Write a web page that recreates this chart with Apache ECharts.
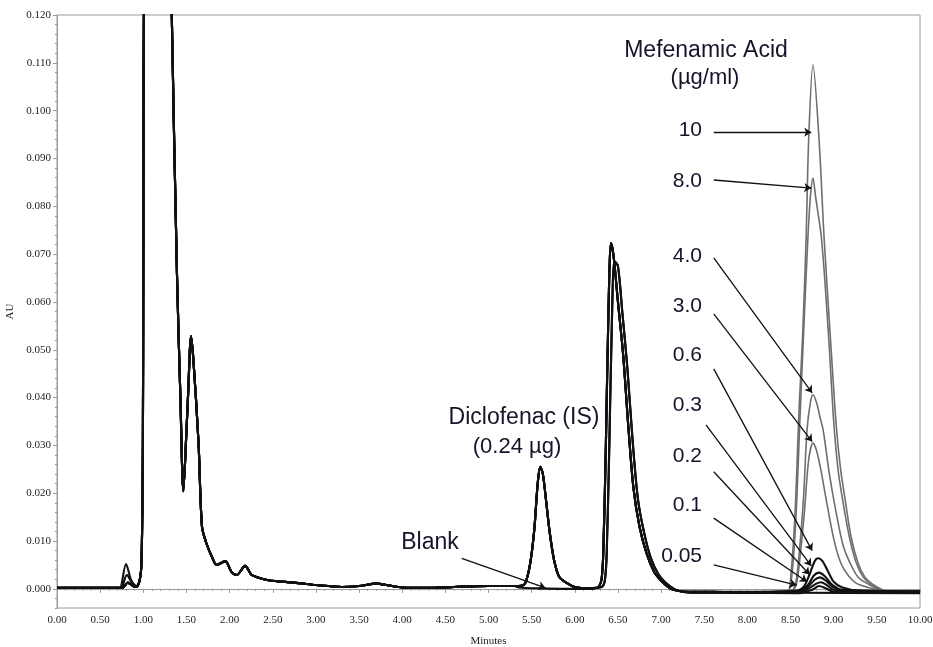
<!DOCTYPE html>
<html>
<head>
<meta charset="utf-8">
<script src="https://cdn.jsdelivr.net/npm/echarts@6/dist/echarts.min.js"></script>
<style>
html, body { margin: 0; padding: 0; background: #fff; }
#container { width: 933px; height: 647px; }
</style>
</head>
<body>
<div id="container"></div>
<script>
// chromatogram pieces, [minutes, AU]
var startFlat = [[0, 0.0002], [0.72, 0.0002]];
var bumpHigh = [[0.74, 0.0003], [0.80, 0.0052], [0.86, 0.0018], [0.92, 0.0006]];
var bumpMid = [[0.75, 0.0003], [0.81, 0.0029], [0.87, 0.0012], [0.92, 0.0005]];
var bumpLow = [[0.76, 0.0002], [0.82, 0.0013], [0.88, 0.0006], [0.92, 0.0004]];

var solventFront = [
    [0.96, 0.002], [0.98, 0.006], [0.995, 0.03], [1.0, 0.07], [1.01, 0.135],
    [1.32, 0.135], [1.33, 0.12], [1.39, 0.066], [1.43, 0.04], [1.464, 0.0204],
    [1.50, 0.033], [1.52, 0.041], [1.553, 0.0528], [1.58, 0.048], [1.64, 0.0305],
    [1.68, 0.013], [1.73, 0.0096], [1.80, 0.0065], [1.85, 0.005], [1.95, 0.0058],
    [2.02, 0.0036], [2.08, 0.0029], [2.18, 0.0048], [2.25, 0.003], [2.31, 0.0025],
    [2.45, 0.0018], [2.55, 0.0016], [2.8, 0.0012], [3.0, 0.0008], [3.3, 0.0004],
    [3.5, 0.0006], [3.7, 0.0011], [3.85, 0.0007], [4.0, 0.0003], [4.3, 0.0002],
    [4.6, 0.0004], [5.0, 0.0006], [5.3, 0.0006]
];

var isPeak = [
    [5.35, 0.0006], [5.42, 0.001], [5.48, 0.005], [5.53, 0.0123], [5.57, 0.022],
    [5.60, 0.0255], [5.63, 0.024], [5.67, 0.018], [5.71, 0.0117], [5.76, 0.006],
    [5.82, 0.0025], [5.91, 0.0012], [6.0, 0.0004], [6.15, 0.0001], [6.25, 0.0002]
];
var blankIs = [[5.35, 0.0003], [5.6, 0.0001], [5.9, 0], [6.15, 0], [6.25, 0.0002]];

var mainPeakA = [
    [6.28, 0.0005], [6.31, 0.002], [6.33, 0.0075], [6.36, 0.03], [6.39, 0.058],
    [6.42, 0.0723], [6.45, 0.0695], [6.50, 0.060], [6.56, 0.049], [6.62, 0.034],
    [6.68, 0.021], [6.75, 0.013], [6.83, 0.0075], [6.92, 0.0035], [6.99, 0.0019],
    [7.08, 0.0004], [7.14, -0.0002], [7.3, -0.0006], [7.6, -0.0006]
];
var mainPeakB = [
    [6.32, 0.0005], [6.35, 0.002], [6.37, 0.0075], [6.40, 0.03], [6.43, 0.056],
    [6.46, 0.0685], [6.50, 0.0675], [6.55, 0.058], [6.61, 0.046], [6.67, 0.031],
    [6.73, 0.019], [6.80, 0.012], [6.88, 0.0065], [6.97, 0.003], [7.04, 0.0015],
    [7.13, 0.0002], [7.2, -0.0004], [7.35, -0.0008], [7.6, -0.0008]
];

// mefenamic acid region for each run
var mef10 = [
    [7.9, -0.0007], [8.3, -0.0006], [8.47, -0.0004], [8.50, 0.002], [8.55, 0.015],
    [8.60, 0.038], [8.64, 0.053], [8.68, 0.073], [8.71, 0.094], [8.76, 0.1096],
    [8.83, 0.094], [8.89, 0.073], [8.96, 0.053], [9.03, 0.034], [9.08, 0.025],
    [9.13, 0.019], [9.20, 0.011], [9.28, 0.0055], [9.36, 0.0025], [9.45, 0.001],
    [9.6, -0.0004], [10, -0.0008]
];
var mef8 = [
    [7.9, -0.0007], [8.3, -0.0006], [8.47, -0.0004], [8.51, 0.002], [8.56, 0.014],
    [8.61, 0.036], [8.65, 0.053], [8.70, 0.073], [8.73, 0.082], [8.76, 0.0859],
    [8.79, 0.082], [8.86, 0.073], [8.94, 0.053], [9.00, 0.035], [9.05, 0.025],
    [9.10, 0.019], [9.18, 0.011], [9.26, 0.0055], [9.34, 0.0025], [9.43, 0.001],
    [9.6, -0.0004], [10, -0.0007]
];
var mef4 = [
    [7.9, -0.0007], [8.3, -0.0006], [8.50, -0.0004], [8.55, 0.0005], [8.59, 0.0054],
    [8.65, 0.019], [8.69, 0.033], [8.73, 0.039], [8.76, 0.0406], [8.80, 0.039],
    [8.84, 0.036], [8.88, 0.033], [8.95, 0.024], [9.03, 0.0158], [9.11, 0.009],
    [9.19, 0.0054], [9.28, 0.0025], [9.38, 0.0012], [9.55, -0.0003], [10, -0.0008]
];
var mef3 = [
    [7.9, -0.0007], [8.3, -0.0006], [8.50, -0.0004], [8.56, 0.0005], [8.60, 0.005],
    [8.66, 0.016], [8.71, 0.027], [8.76, 0.0305], [8.80, 0.029], [8.85, 0.025],
    [8.92, 0.018], [9.00, 0.0105], [9.08, 0.0055], [9.16, 0.003], [9.26, 0.0012],
    [9.4, 0.0003], [9.6, -0.0005], [10, -0.0008]
];
var mef06 = [
    [7.9, -0.0006], [8.55, -0.0004], [8.65, 0.0004], [8.72, 0.003], [8.78, 0.0058],
    [8.82, 0.0064], [8.87, 0.0058], [8.93, 0.0038], [9.0, 0.0015], [9.1, 0.0003],
    [9.3, -0.0004], [10, -0.0006]
];
var mef03 = [
    [7.9, -0.0007], [8.6, -0.0005], [8.70, 0.0008], [8.77, 0.0028], [8.83, 0.0034],
    [8.90, 0.0026], [8.98, 0.0009], [9.1, -0.0002], [10, -0.0005]
];
var mef02 = [
    [7.9, -0.0007], [8.6, -0.0006], [8.70, 0.0004], [8.78, 0.0019], [8.84, 0.0024],
    [8.91, 0.0017], [8.99, 0.0004], [9.1, -0.0003], [10, -0.0005]
];
var mef01 = [
    [7.9, -0.0008], [8.6, -0.0008], [8.72, 0.0002], [8.80, 0.0011], [8.85, 0.0014],
    [8.92, 0.0008], [9.0, -0.0002], [10, -0.0006]
];
var mef005 = [
    [7.9, -0.0008], [8.6, -0.0009], [8.75, -0.0002], [8.83, 0.0006], [8.90, 0.0002],
    [9.0, -0.0006], [10, -0.0007]
];
var mefBlank = [[7.9, -0.0008], [8.5, -0.0008], [10, -0.0009]];

// label text, label y (px), arrow from -> to in [minutes, AU]
var concLabels = ['10', '8.0', '4.0', '3.0', '0.6', '0.3', '0.2', '0.1', '0.05'];
var concLabelY = [130, 181, 256, 306, 355, 405, 456, 505, 556];
var arrows = [
    [[7.61, 0.0955], [8.74, 0.0955]],
    [[7.61, 0.0855], [8.74, 0.0838]],
    [[7.61, 0.0692], [8.75, 0.0410]],
    [[7.61, 0.0575], [8.75, 0.0308]],
    [[7.61, 0.0460], [8.75, 0.0080]],
    [[7.52, 0.0343], [8.74, 0.0048]],
    [[7.61, 0.0245], [8.72, 0.0030]],
    [[7.61, 0.0148], [8.69, 0.0015]],
    [[7.61, 0.0050], [8.57, 0.0008]],
    [[4.69, 0.0064], [5.66, 0.0002]]
];

var yLabelValues = [0, 0.01, 0.02, 0.03, 0.04, 0.05, 0.06, 0.07, 0.08, 0.09, 0.10, 0.11, 0.12];
var yMinorValues = [];
for (var v = -4; v <= 120; v += 2) yMinorValues.push(v / 1000);

function run(bump, isPart, peak, tail) {
    return startFlat.concat(bump, solventFront, isPart, peak, tail);
}

var runs = [
    { name: '10', data: run(bumpLow, isPeak, mainPeakA, mef10), grey: true },
    { name: '8.0', data: run(bumpMid, isPeak, mainPeakB, mef8), grey: true },
    { name: '4.0', data: run(bumpLow, isPeak, mainPeakA, mef4), grey: true },
    { name: '3.0', data: run(bumpLow, isPeak, mainPeakB, mef3), grey: true },
    { name: '0.6', data: run(bumpHigh, isPeak, mainPeakA, mef06) },
    { name: '0.3', data: run(bumpLow, isPeak, mainPeakB, mef03) },
    { name: '0.2', data: run(bumpMid, isPeak, mainPeakA, mef02) },
    { name: '0.1', data: run(bumpLow, isPeak, mainPeakA, mef01) },
    { name: '0.05', data: run(bumpLow, isPeak, mainPeakB, mef005) },
    { name: 'Blank', data: run(bumpLow, blankIs, mainPeakA, mefBlank) }
];

var serif = '"Liberation Serif", "Times New Roman", serif';
var sans = '"Liberation Sans", Arial, sans-serif';

var series = runs.map(function (r, i) {
    var s = {
        name: r.name,
        type: 'line',
        data: r.data,
        showSymbol: false,
        symbol: 'none',
        smooth: 0.3,
        clip: true,
        lineStyle: { color: r.grey ? '#6e6e6e' : '#111', width: r.grey ? 1.6 : 2.1 }
    };
    if (i === runs.length - 1) {
        s.markLine = {
            silent: true,
            animation: false,
            symbol: ['none', 'arrow'],
            symbolSize: 7,
            label: { show: false },
            lineStyle: { color: '#111', width: 1.3, type: 'solid' },
            data: arrows.map(function (a) {
                return [{ coord: a[0] }, { coord: a[1] }];
            })
        };
    }
    return s;
});

var texts = [
    { text: 'Mefenamic Acid', x: 706, y: 51, align: 'center', size: 23 },
    { text: '(µg/ml)', x: 705, y: 78, align: 'center', size: 22 },
    { text: 'Diclofenac (IS)', x: 524, y: 418, align: 'center', size: 23 },
    { text: '(0.24 µg)', x: 517, y: 447, align: 'center', size: 22 },
    { text: 'Blank', x: 430, y: 543, align: 'center', size: 23 }
];
concLabels.forEach(function (c, i) {
    texts.push({ text: c, x: 702, y: concLabelY[i], align: 'right', size: 21 });
});

var myChart = echarts.init(document.getElementById('container'));
var option = {
    animation: false,
    backgroundColor: '#fff',
    grid: {
        left: 57, right: 13, top: 15, bottom: 39,
        outerBoundsMode: 'none',
        show: true, borderColor: '#9a9a9a', borderWidth: 1
    },
    xAxis: {
        type: 'value',
        min: 0, max: 10, interval: 0.5,
        name: 'Minutes',
        nameLocation: 'middle',
        nameGap: 28,
        nameTextStyle: { fontFamily: serif, fontSize: 11, color: '#222' },
        axisLine: { lineStyle: { color: '#9a9a9a' } },
        axisTick: { length: 4, lineStyle: { color: '#9a9a9a' } },
        minorTick: { show: true, splitNumber: 5, length: 2, lineStyle: { color: '#9a9a9a' } },
        splitLine: { show: false },
        axisLabel: {
            fontFamily: serif, fontSize: 11, color: '#222', margin: 7,
            formatter: function (v) { return v.toFixed(2); }
        }
    },
    yAxis: [{
        type: 'value',
        min: -0.004, max: 0.12,
        name: 'AU',
        nameLocation: 'middle',
        nameGap: 40,
        nameTextStyle: { fontFamily: serif, fontSize: 11, color: '#222' },
        axisLine: { show: true, lineStyle: { color: '#9a9a9a' } },
        axisTick: { show: true, length: 4, customValues: yLabelValues, lineStyle: { color: '#9a9a9a' } },
        splitLine: { show: false },
        axisLabel: {
            fontFamily: serif, fontSize: 11, color: '#222', margin: 6,
            customValues: yLabelValues,
            formatter: function (v) { return v.toFixed(3); }
        }
    }, {
        type: 'value',
        position: 'left',
        min: -0.004, max: 0.12,
        axisLine: { show: false },
        axisTick: { show: true, length: 2, customValues: yMinorValues, lineStyle: { color: '#9a9a9a' } },
        axisLabel: { show: false },
        splitLine: { show: false }
    }],
    graphic: texts.map(function (t) {
        return {
            type: 'text',
            x: t.x, y: t.y,
            silent: true,
            style: {
                text: t.text,
                font: t.size + 'px ' + sans,
                fill: '#15152a',
                align: t.align,
                verticalAlign: 'middle'
            }
        };
    }),
    series: series
};
myChart.setOption(option);
</script>
</body>
</html>
